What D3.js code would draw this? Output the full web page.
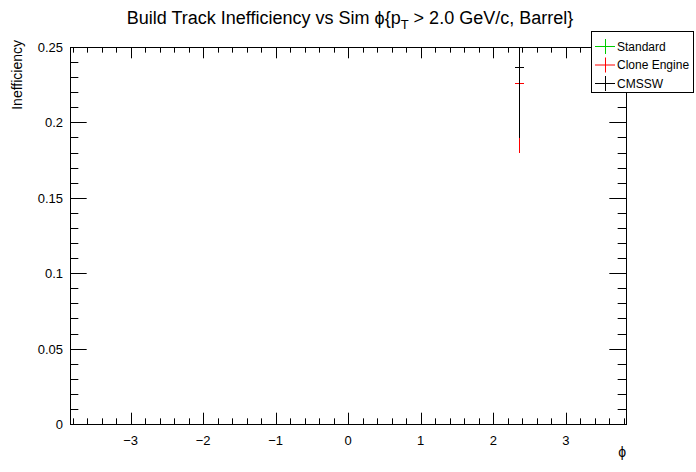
<!DOCTYPE html>
<html>
<head>
<meta charset="utf-8">
<script src="https://cdn.jsdelivr.net/npm/d3@7"></script>
<style>
	body { margin: 0; background: #fff; }
	text { font-family: "Liberation Sans", Arial, sans-serif; }
</style>
</head>
<body>
<div id="chart"></div>
<script>

// series shown in the legend, drawn in this order
var series = ["Standard", "Clone Engine", "CMSSW"];
var colors = ["#00cc00", "#ff0000", "#000000"];

// the only filled phi bin for every series
var phiPoints = [2.35];

// inefficiency with asymmetric errors, one entry per series
var values = [0.2261, 0.2261, 0.2367];
var errLow = [0.0464, 0.0464, 0.0470];
var errHigh = [0.048, 0.048, 0.052];

// tick labels
var xTicks = [-3, -2, -1, 0, 1, 2, 3];
var yTicks = [0, 0.05, 0.1, 0.15, 0.2, 0.25];

// margins of the frame
var margin = {top: 47, bottom: 48, left: 70, right: 70},
	width = 696,
	height = 472,
	frameW = width - margin.left - margin.right,
	frameH = height - margin.top - margin.bottom;

var svg = d3.select("#chart")
	.append("svg")
	.attr("width", width)
	.attr("height", height);

var x = d3.scaleLinear()
	.domain([-3.835, 3.83])
	.range([margin.left, margin.left + frameW]);

var y = d3.scaleLinear()
	.domain([0, 0.25])
	.range([margin.top + frameH, margin.top]);

svg.append("defs").append("clipPath")
	.attr("id", "frameclip")
	.append("rect")
	.attr("x", margin.left)
	.attr("y", margin.top)
	.attr("width", frameW)
	.attr("height", frameH);

// minor tick values
var xMinor = d3.range(-3.8, 3.81, 0.2).map(function(d){ return Math.round(d * 10) / 10; });
var yMinor = d3.range(0, 0.2501, 0.01).map(function(d){ return Math.round(d * 100) / 100; });

// ticks, ROOT style: inward on all four sides
var xMajLen = 0.03 * frameH, yMajLen = 0.03 * frameW;

function isMajorX(d){ return Math.abs(d - Math.round(d)) < 1e-6; }
function isMajorY(d){ return Math.abs(d * 20 - Math.round(d * 20)) < 1e-6; }

var ticks = svg.append("g").attr("stroke", "#000").attr("stroke-width", 1);

[margin.top + frameH, margin.top].forEach(function(yy, k){
	ticks.selectAll(null)
		.data(xMinor)
		.enter()
		.append("line")
		.attr("x1", function(d){ return Math.round(x(d)) + 0.5; })
		.attr("x2", function(d){ return Math.round(x(d)) + 0.5; })
		.attr("y1", yy)
		.attr("y2", function(d){
			var len = isMajorX(d) ? xMajLen : xMajLen / 2;
			return k == 0 ? yy - len : yy + len;
		});
});

[margin.left, margin.left + frameW].forEach(function(xx, k){
	ticks.selectAll(null)
		.data(yMinor)
		.enter()
		.append("line")
		.attr("y1", function(d){ return Math.round(y(d)) + 0.5; })
		.attr("y2", function(d){ return Math.round(y(d)) + 0.5; })
		.attr("x1", xx)
		.attr("x2", function(d){
			var len = isMajorY(d) ? yMajLen : yMajLen / 2;
			return k == 0 ? xx + len : xx - len;
		});
});

// frame
svg.append("rect")
	.attr("x", margin.left + 0.5)
	.attr("y", margin.top + 0.5)
	.attr("width", frameW)
	.attr("height", frameH)
	.attr("fill", "none")
	.attr("stroke", "#000");

// tick labels
svg.append("g")
	.selectAll("text")
	.data(xTicks)
	.enter()
	.append("text")
	.attr("x", function(d){ return x(d); })
	.attr("y", 445)
	.attr("text-anchor", "middle")
	.attr("font-size", 13)
	.text(function(d){ return d < 0 ? "\u2212" + Math.abs(d) : d; });

svg.append("g")
	.selectAll("text")
	.data(yTicks)
	.enter()
	.append("text")
	.attr("x", 63)
	.attr("y", function(d){ return y(d) + 5; })
	.attr("text-anchor", "end")
	.attr("font-size", 13)
	.text(function(d){ return d; });

// axis titles
svg.append("text")
	.attr("x", margin.left + frameW)
	.attr("y", 457)
	.attr("text-anchor", "end")
	.attr("font-size", 14)
	.text("\u03d5");

svg.append("text")
	.attr("transform", "translate(22,40) rotate(-90)")
	.attr("text-anchor", "end")
	.attr("font-size", 14)
	.text("Inefficiency");

// title
var title = svg.append("text")
	.attr("x", 350)
	.attr("y", 24)
	.attr("text-anchor", "middle")
	.attr("font-size", 18);

title.append("tspan").text("Build Track Inefficiency vs Sim \u03d5{p");
title.append("tspan").attr("font-size", 13).attr("dy", 5).text("T");
title.append("tspan").attr("dy", -5).text(" > 2.0 GeV/c, Barrel}");

// error bars, one group per series
var points = svg.append("g").attr("clip-path", "url(#frameclip)");

series.forEach(function(name, i){

	var g = points.append("g")
		.attr("stroke", colors[i])
		.attr("stroke-width", 1);

	g.selectAll(null)
		.data(phiPoints)
		.enter()
		.append("line")
		.attr("x1", function(d){ return Math.round(x(d)) + 0.5; })
		.attr("x2", function(d){ return Math.round(x(d)) + 0.5; })
		.attr("y1", y(values[i] - errLow[i]))
		.attr("y2", y(values[i] + errHigh[i]));

	g.selectAll(null)
		.data(phiPoints)
		.enter()
		.append("line")
		.attr("x1", function(d){ return Math.round(x(d)) - 4; })
		.attr("x2", function(d){ return Math.round(x(d)) + 5; })
		.attr("y1", Math.round(y(values[i])) + 0.5)
		.attr("y2", Math.round(y(values[i])) + 0.5);
});

// legend
var legend = svg.append("g");

legend.append("rect")
	.attr("x", 591.5)
	.attr("y", 31.5)
	.attr("width", 102)
	.attr("height", 61)
	.attr("fill", "#fff")
	.attr("stroke", "#000");

var entry = legend.selectAll("g.entry")
	.data(series)
	.enter()
	.append("g")
	.attr("class", "entry")
	.attr("transform", function(d, i){ return "translate(0," + (46 + i * 18.5) + ")"; });

entry.append("line")
	.attr("x1", 595).attr("x2", 615)
	.attr("y1", 0.5).attr("y2", 0.5)
	.attr("stroke", function(d, i){ return colors[i]; });

entry.append("line")
	.attr("x1", 605.5).attr("x2", 605.5)
	.attr("y1", -7).attr("y2", 8)
	.attr("stroke", function(d, i){ return colors[i]; });

entry.append("text")
	.attr("x", 617)
	.attr("y", 4.5)
	.attr("font-size", 12)
	.text(function(d){ return d; });

</script>
</body>
</html>
